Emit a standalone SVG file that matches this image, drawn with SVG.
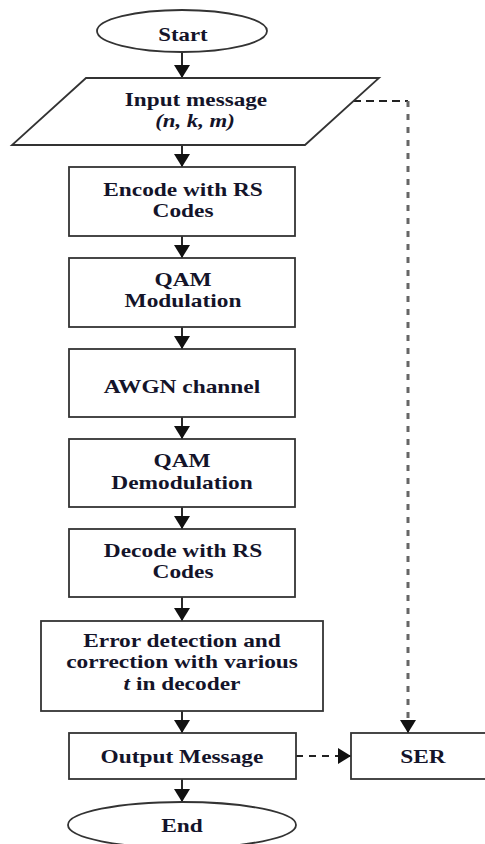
<svg xmlns="http://www.w3.org/2000/svg" width="485" height="844" viewBox="0 0 485 844">
<style>
.shape{fill:#fff;stroke:#333;stroke-width:1.8}
.t{font-family:"Liberation Serif","Times New Roman",serif;font-weight:bold;font-size:19px;fill:#14142a;text-anchor:middle}
.i{font-style:italic}
.flow{fill:none;stroke:#111;stroke-width:1.8}
.dash{fill:none;stroke:#222;stroke-width:2;stroke-dasharray:8 5}
.dot{fill:none;stroke:#666;stroke-width:3;stroke-dasharray:6 7}
</style>
<defs>
<marker id="ah" markerUnits="userSpaceOnUse" markerWidth="13" markerHeight="16" refX="13" refY="8" orient="auto">
<path d="M0,0 L13,8 L0,16 z" fill="#111"/>
</marker>
</defs>
<rect width="485" height="844" fill="#fff"/>
<g id="connectors">
<line class="flow" x1="182" y1="53" x2="182" y2="78" marker-end="url(#ah)"/>
<line class="flow" x1="182" y1="145" x2="182" y2="167" marker-end="url(#ah)"/>
<line class="flow" x1="182" y1="236" x2="182" y2="258" marker-end="url(#ah)"/>
<line class="flow" x1="182" y1="327" x2="182" y2="349" marker-end="url(#ah)"/>
<line class="flow" x1="182" y1="417" x2="182" y2="439" marker-end="url(#ah)"/>
<line class="flow" x1="182" y1="507" x2="182" y2="529" marker-end="url(#ah)"/>
<line class="flow" x1="182" y1="597" x2="182" y2="621" marker-end="url(#ah)"/>
<line class="flow" x1="182" y1="711" x2="182" y2="733" marker-end="url(#ah)"/>
<line class="flow" x1="182" y1="779" x2="182" y2="802" marker-end="url(#ah)"/>
<path class="dash" d="M353,101 H408"/>
<path class="dot" d="M408,101 V722"/>
<line class="flow" x1="408" y1="720" x2="408" y2="733" marker-end="url(#ah)"/>
<path class="dash" d="M296,756 H340" style="stroke-dasharray:7 6"/>
<line class="flow" x1="338" y1="756" x2="351" y2="756" marker-end="url(#ah)"/>
</g>
<g id="start">
<ellipse class="shape" cx="182" cy="31" rx="85" ry="21"/>
<text class="t" transform="translate(183,41) scale(1.2,1)">Start</text>
</g>
<g id="input">
<polygon class="shape" points="86,78 379,78 305,145 12,145"/>
<text class="t" transform="translate(196,106) scale(1.22,1)">Input message</text>
<text class="t i" transform="translate(195,127) scale(1.2,1)">(n, k, m)</text>
</g>
<g id="encode">
<rect class="shape" x="69" y="167" width="226" height="69"/>
<text class="t" transform="translate(183,196) scale(1.23,1)">Encode with RS</text>
<text class="t" transform="translate(183,217) scale(1.23,1)">Codes</text>
</g>
<g id="qammod">
<rect class="shape" x="69" y="258" width="226" height="69"/>
<text class="t" transform="translate(183,286) scale(1.23,1)">QAM</text>
<text class="t" transform="translate(183,307) scale(1.23,1)">Modulation</text>
</g>
<g id="awgn">
<rect class="shape" x="69" y="349" width="226" height="68"/>
<text class="t" transform="translate(182,393) scale(1.23,1)">AWGN channel</text>
</g>
<g id="qamdemod">
<rect class="shape" x="69" y="439" width="226" height="68"/>
<text class="t" transform="translate(182,467) scale(1.23,1)">QAM</text>
<text class="t" transform="translate(182,489) scale(1.23,1)">Demodulation</text>
</g>
<g id="decode">
<rect class="shape" x="69" y="529" width="226" height="68"/>
<text class="t" transform="translate(183,557) scale(1.23,1)">Decode with RS</text>
<text class="t" transform="translate(183,578) scale(1.23,1)">Codes</text>
</g>
<g id="error">
<rect class="shape" x="41" y="621" width="282" height="90"/>
<text class="t" transform="translate(182,647) scale(1.23,1)">Error detection and</text>
<text class="t" transform="translate(182,668) scale(1.23,1)">correction with various</text>
<text class="t" transform="translate(182,690) scale(1.23,1)"><tspan class="i">t</tspan> in decoder</text>
</g>
<g id="output">
<rect class="shape" x="69" y="733" width="227" height="46"/>
<text class="t" transform="translate(182,763) scale(1.23,1)">Output Message</text>
</g>
<g id="ser">
<rect class="shape" x="351" y="733" width="144" height="46"/>
<text class="t" transform="translate(423,763) scale(1.23,1)">SER</text>
</g>
<g id="end">
<ellipse class="shape" cx="182" cy="825" rx="114" ry="23"/>
<text class="t" transform="translate(182,832) scale(1.23,1)">End</text>
</g>
</svg>
